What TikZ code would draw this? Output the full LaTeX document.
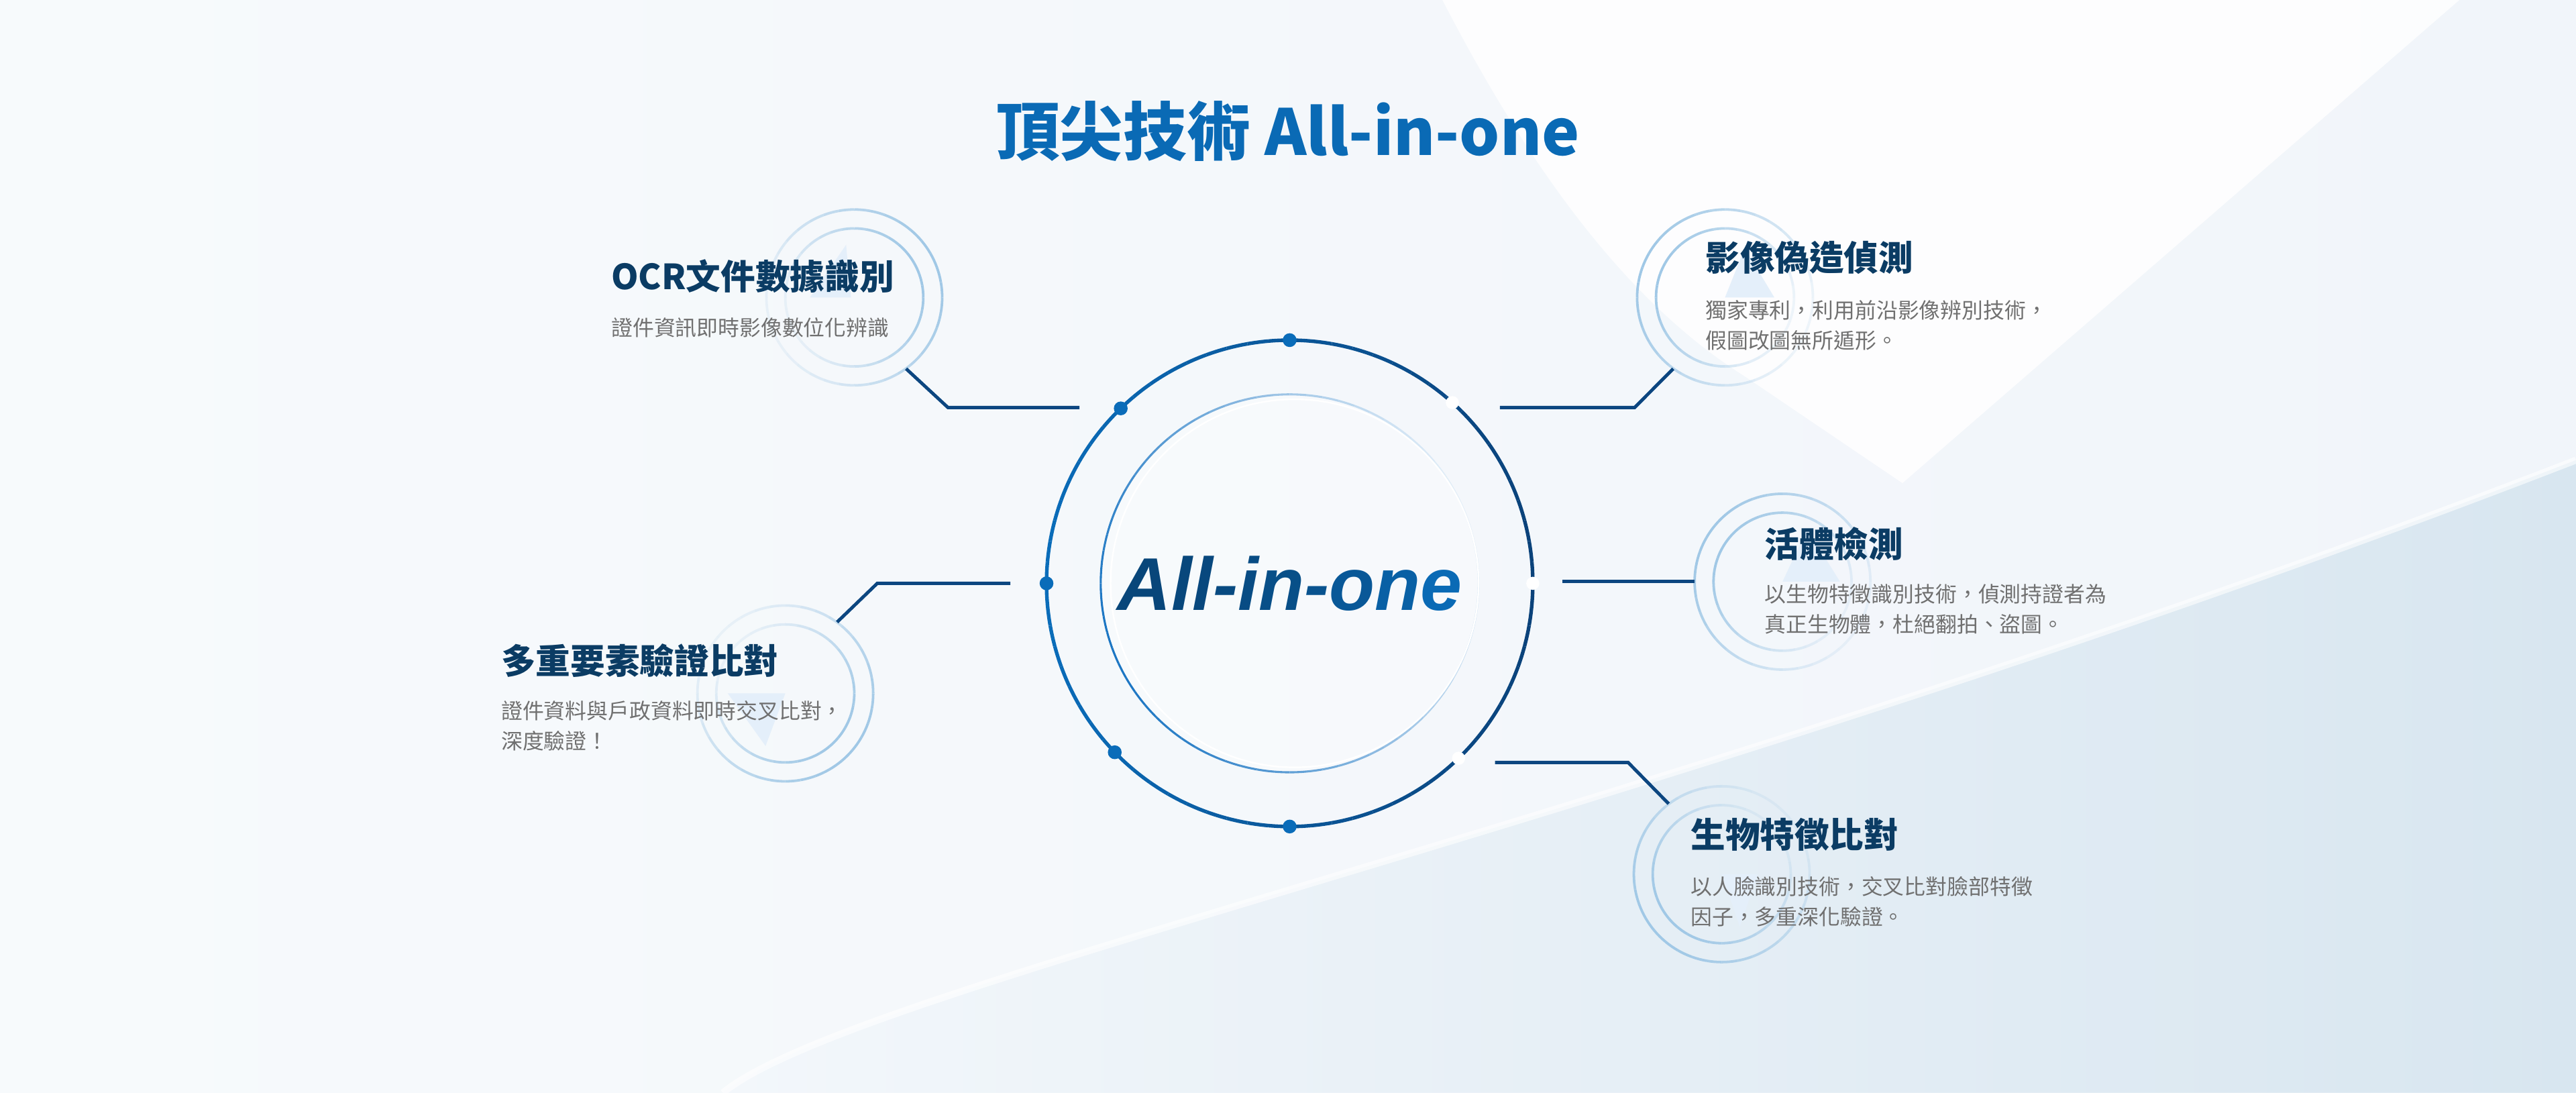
\documentclass[tikz,border=0pt]{standalone}
\usepackage{fontspec}
\setmainfont{Noto Sans CJK TC}
\newfontfamily\latinfont{Liberation Sans}

\definecolor{titleblue}{RGB}{10,106,181}
\definecolor{headnavy}{RGB}{11,60,100}
\definecolor{subgrey}{RGB}{112,112,112}
\definecolor{ringnavy}{RGB}{10,66,122}
\definecolor{ringblue}{RGB}{10,108,185}
\definecolor{innerblue}{RGB}{28,118,195}
\definecolor{innerpale}{RGB}{226,238,248}
\definecolor{halocol}{RGB}{160,200,230}
\definecolor{wedgecol}{RGB}{228,239,250}
\definecolor{linknavy}{RGB}{12,70,128}
\definecolor{corenavy}{RGB}{8,70,122}
\definecolor{coreblue}{RGB}{10,110,188}
\definecolor{bgleft}{RGB}{247,250,252}
\definecolor{bgright}{RGB}{241,245,250}
\definecolor{bandleft}{RGB}{243,247,251}
\definecolor{bandright}{RGB}{216,230,240}

\begin{document}
\begin{tikzpicture}[x=0.05cm,y=0.05cm,
  head/.style={anchor=west,inner sep=0pt,text=headnavy,font=\fontsize{30}{36}\selectfont\bfseries},
  blurb/.style={anchor=north west,inner sep=0pt,text=subgrey,align=left,font=\fontsize{18.5}{26.3}\selectfont},
  halo/.style={circle,minimum size=5.35cm,inner sep=0pt},
  link/.style={draw=linknavy,line width=2.85pt}]
\useasboundingbox (0,0) rectangle (1568,-665);
% background
\shade[left color=bgleft,right color=bgright] (0,0) rectangle (1568,-665);
\fill[white,opacity=0.85] (878,0) .. controls (940,-120) and (1000,-190) .. (1062,-229) -- (1158,-294) -- (1497,0) -- cycle;
\shade[left color=bandleft,right color=bandright] (440,-665) .. controls (520,-600) and (1000,-500) .. (1568,-280) -- (1568,-665) -- cycle;
\draw[white,line width=6pt,opacity=0.6] (440,-665) .. controls (520,-600) and (1000,-500) .. (1568,-280);

% title
\node[inner sep=0pt,text=titleblue,font=\fontsize{55}{60}\selectfont\bfseries] (title) at (784,-80) {頂尖技術 All-in-one};

% halo rings
\node[halo] (ocr) at (520,-181) {};
\node[halo] (fake) at (1050,-181) {};
\node[halo] (multi) at (478,-422) {};
\node[halo] (live) at (1085,-354) {};
\node[halo] (bio) at (1048,-532) {};
\fill[wedgecol] (ocr.center) ++(-27,0) -- ++(22,32) -- ++(3,-32) -- cycle;
\fill[wedgecol] (fake.center) ++(0,0) -- ++(12,30) -- ++(18,-30) -- cycle;
\fill[wedgecol] (multi.center) ++(-35,0) -- ++(23,-32) -- ++(12,32) -- cycle;
\fill[wedgecol] (live.center) ++(0,0) -- ++(15,32) -- ++(20,-32) -- cycle;
\fill[wedgecol] (bio.center) ++(0,0) -- ++(11,-32) -- ++(11,32) -- cycle;
\foreach \n/\b in {ocr/20,fake/160,multi/-40,live/150,bio/220}{
  \foreach \a in {0,10,...,350}{
    \pgfmathsetmacro\op{0.15+0.85*(1+cos(\a+5-\b))/2}
    \draw[halocol,line width=2.2pt,opacity=\op] (\n.center) ++(\a:53.5) arc[start angle=\a,end angle=\a+10,radius=53.5];
    \draw[halocol,line width=2.2pt,opacity=\op] (\n.center) ++(\a:42) arc[start angle=\a,end angle=\a+10,radius=42];
  }
}

% core circles
\node[inner sep=0pt] (core) at (785,-355) {};
\fill[white,opacity=0.35] (core.center) circle[radius=115];
\foreach \a in {0,5,...,355}{
  \pgfmathtruncatemacro\mix{round(50+50*cos(\a+2.5-200))}
  \draw[line width=1.8pt,draw=innerblue!\mix!innerpale] (core.center) ++(\a:115) arc[start angle=\a,end angle=\a+5,radius=115];
}
\draw[white,line width=1.4pt] (core.center) ++(3,0) circle[radius=112];
\foreach \a in {0,5,...,355}{
  \pgfmathtruncatemacro\mix{round(50+50*cos(\a+2.5))}
  \draw[line width=3.1pt,draw=ringnavy!\mix!ringblue] (core.center) ++(\a:148) arc[start angle=\a,end angle=\a+5,radius=148];
}
\foreach \a in {48,0,-46}
  \fill[white] (core.center) ++(\a:148) circle[radius=4];
\foreach \a in {90,134,180,224,270}
  \fill[ringblue] (core.center) ++(\a:148) circle[radius=4.2];
\node[inner sep=0pt,font=\latinfont\bfseries\itshape\fontsize{64.7}{70}\selectfont] at (core.center) {\color{corenavy}A\color{corenavy!97!coreblue}l\color{corenavy!94!coreblue}l\color{corenavy!90!coreblue}-\color{corenavy!85!coreblue}i\color{corenavy!78!coreblue}n\color{corenavy!68!coreblue}-\color{corenavy!55!coreblue}o\color{corenavy!35!coreblue}n\color{corenavy!10!coreblue}e};

% connectors
\coordinate (ocrA) at (657,-248); \coordinate (ocrB) at (577,-248);
\coordinate (fakeA) at (913,-248); \coordinate (fakeB) at (995,-248);
\coordinate (multiA) at (615,-355); \coordinate (multiB) at (534,-355);
\coordinate (liveA) at (951,-354);
\coordinate (bioA) at (910,-464); \coordinate (bioB) at (991,-464);
\draw[link] (ocrA) -- (ocrB) -- (ocr.-54);
\draw[link] (fakeA) -- (fakeB) -- (fake.234);
\draw[link] (multiA) -- (multiB) -- (multi.54);
\draw[link] (liveA) -- (live.180);
\draw[link] (bioA) -- (bioB) -- (bio.127);

% texts
\node[head] (ocrT) at (372,-168) {OCR文件數據識別};
\node[blurb] (ocrS) at (372,-193.4) {證件資訊即時影像數位化辨識};
\node[head] (fakeT) at (1038,-157) {影像偽造偵測};
\node[blurb] (fakeS) at (1038,-182.4) {獨家專利，利用前沿影像辨別技術，\\假圖改圖無所遁形。};
\node[head] (multiT) at (305,-402) {多重要素驗證比對};
\node[blurb] (multiS) at (305,-426.4) {證件資料與戶政資料即時交叉比對，\\深度驗證！};
\node[head] (liveT) at (1074,-331) {活體檢測};
\node[blurb] (liveS) at (1074,-355.4) {以生物特徵識別技術，偵測持證者為\\真正生物體，杜絕翻拍、盜圖。};
\node[head] (bioT) at (1029,-508) {生物特徵比對};
\node[blurb] (bioS) at (1029,-533.4) {以人臉識別技術，交叉比對臉部特徵\\因子，多重深化驗證。};
\end{tikzpicture}
\end{document}
